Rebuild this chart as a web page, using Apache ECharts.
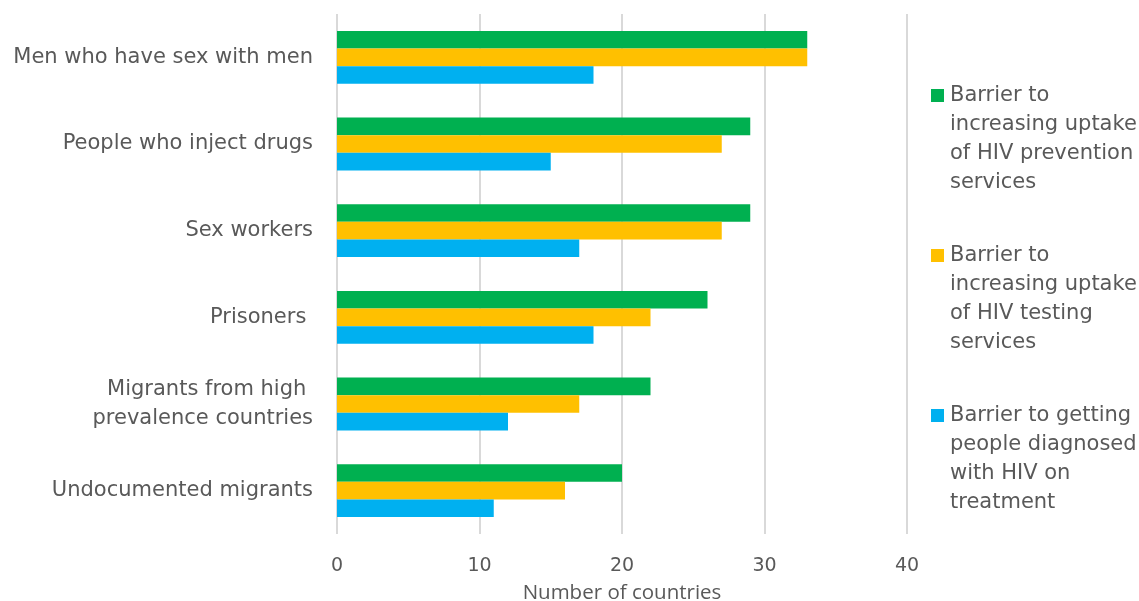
<!DOCTYPE html>
<html><head><meta charset="utf-8">
<script src="https://cdn.jsdelivr.net/npm/echarts@6/dist/echarts.min.js"></script>
<style>html,body{margin:0;padding:0;background:#fff}#c{width:1139px;height:601px}</style>
</head><body><div id="c"></div>
<script>
const categories = ["Men who have sex with men", "People who inject drugs", "Sex workers", "Prisoners ", "Migrants from high \nprevalence countries", "Undocumented migrants"];
const seriesNames = ["Barrier to increasing uptake of HIV prevention services", "Barrier to increasing uptake of HIV testing services", "Barrier to getting people diagnosed with HIV on treatment"];
const legendLines = [["Barrier to", "increasing uptake", "of HIV prevention", "services"], ["Barrier to", "increasing uptake", "of HIV testing", "services"], ["Barrier to getting", "people diagnosed", "with HIV on", "treatment"]];
const prevention = [33, 29, 29, 26, 22, 20];
const testing = [33, 27, 27, 22, 17, 16];
const treatment = [18, 15, 17, 18, 12, 11];
const colors = ["#00B050", "#FFC000", "#00B0F0"];
const xTicks = [0, 10, 20, 30, 40];

const chart = echarts.init(document.getElementById('c'));
const rich = { s: { width: 19, height: 29 } };
colors.forEach((c, i) => { rich['b' + i] = { width: 13, height: 13, backgroundColor: c, verticalAlign: 'middle' }; });
rich['g'] = { width: 6 };
const values = [prevention, testing, treatment];
chart.setOption({
  animation: false,
  textStyle: { fontFamily: 'DejaVu Sans' },
  grid: { left: 337, right: 232, top: 14, bottom: 67, outerBoundsMode: 'none', containLabel: false },
  xAxis: {
    type: 'value', min: xTicks[0], max: xTicks[xTicks.length - 1], interval: 10,
    axisLine: { show: false }, axisTick: { show: false },
    splitLine: { lineStyle: { color: '#D9D9D9', width: 2 } },
    axisLabel: { color: '#595959', fontSize: 19, margin: 23 },
    name: 'Number of countries', nameLocation: 'middle', nameGap: 49,
    nameTextStyle: { color: '#595959', fontSize: 20.5, fontFamily: 'Open Sans' }
  },
  yAxis: {
    type: 'category', data: categories, inverse: true,
    axisLine: { show: false }, axisTick: { show: false },
    axisLabel: { color: '#595959', fontSize: 21, margin: 24, lineHeight: 29 }
  },
  legend: {
    orient: 'vertical', left: 926, top: 81, itemGap: 44, padding: 0,
    icon: 'none', itemWidth: 0, itemHeight: 13,
    data: seriesNames,
    textStyle: { color: '#595959', fontSize: 21, lineHeight: 29, rich: rich, padding: 0 },
    formatter: function (name) {
      const i = seriesNames.indexOf(name);
      const L = legendLines[i];
      return '{b' + i + '|}{g|}' + L[0] + '\n' + L.slice(1).map(t => '{s|}' + t).join('\n');
    },
    selectedMode: false
  },
  series: values.map((v, i) => ({
    name: seriesNames[i], type: 'bar', data: v,
    itemStyle: { color: colors[i] },
    barGap: '0%', barCategoryGap: '39%'
  }))
});
</script></body></html>
